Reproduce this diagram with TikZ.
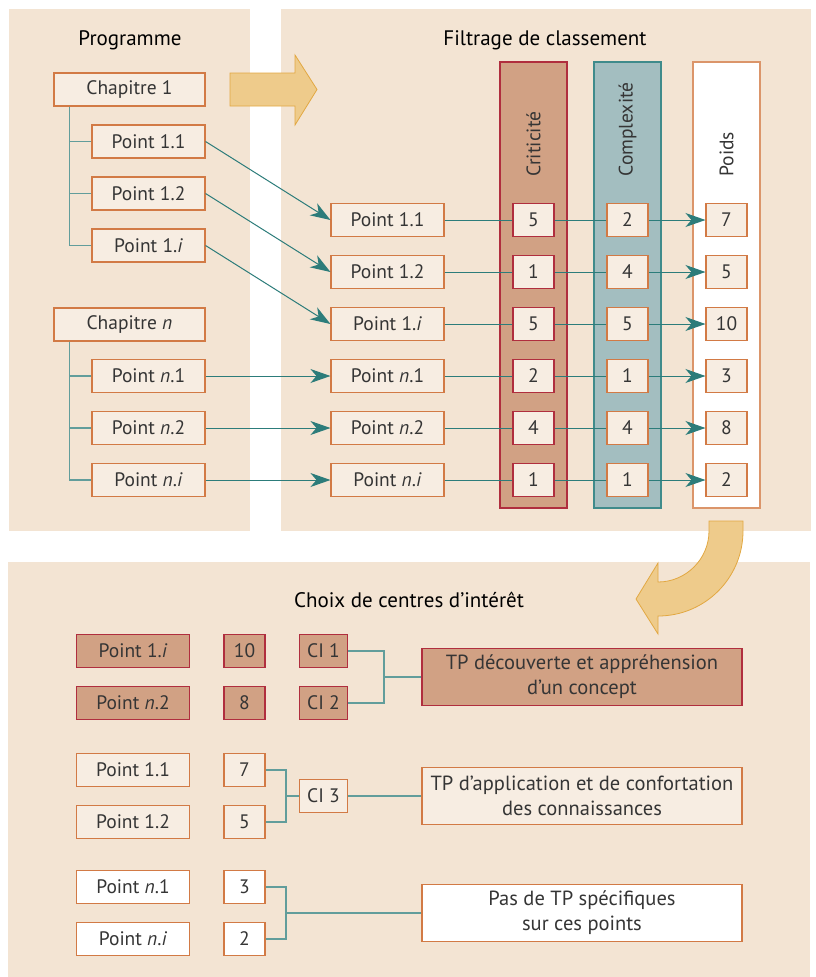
\documentclass[tikz,border=0pt]{standalone}
\usepackage{fontspec}
\setmainfont{PT Sans}
\usetikzlibrary{arrows.meta,positioning}
\definecolor{fond}{HTML}{F3E4D3}
\definecolor{clair}{HTML}{F7EDE2}
\definecolor{orangeb}{HTML}{D27A45}
\definecolor{critfond}{HTML}{D1A184}
\definecolor{critbord}{HTML}{B02E3E}
\definecolor{compfond}{HTML}{A3BEC0}
\definecolor{compbord}{HTML}{3F8B8B}
\definecolor{sarcelle}{HTML}{2C7C7A}
\definecolor{jaune}{HTML}{EECB8B}
\definecolor{jaunebord}{HTML}{E2A842}
\definecolor{texte}{HTML}{353535}

\begin{document}
\begin{tikzpicture}[x=1pt, y=-1pt,
      titre/.style={font=\fontsize{21}{24}\selectfont, text=black},
      boite/.style={draw=orangeb, line width=1.1pt, fill=clair, minimum height=33pt, inner sep=0pt,
        font=\fontsize{19.5}{22}\selectfont, text=texte},
      pt/.style={boite, minimum width=113pt},
      val/.style={boite, minimum width=41pt},
      ci/.style={boite, minimum width=48pt},
      tp/.style={boite, minimum width=320pt, minimum height=57pt, align=center,
        font=\fontsize{20.5}{25}\selectfont},
      rouge/.style={fill=critfond, draw=critbord},
      blanc/.style={fill=white},
      colonne/.style={line width=1.1pt, minimum width=67pt, minimum height=446pt, inner sep=0pt},
      etiq/.style={rotate=90, anchor=west, font=\fontsize{19.5}{22}\selectfont, text=texte},
      arbre/.style={draw=sarcelle!75, line width=1.2pt},
      lien/.style={draw=sarcelle, line width=1pt},
      fleche/.style={lien, -{Stealth[length=20pt, width=14pt, inset=6pt]}},
      grosse/.style={fill=jaune, draw=jaunebord, line width=0.8pt}]
    \useasboundingbox (0,0) rectangle (815,977);
    \fill[fond] (9,9) rectangle (250,531);
    \fill[fond] (281,9) rectangle (811,531);
    \fill[fond] (8,562) rectangle (810,977);

    \node[titre] (tprog) at (130,40) {Programme};
    \node[titre] (tfilt) at (545,40) {Filtrage de classement};
    \node[titre] (tchoix) at (409,600) {Choix de centres d’intérêt};

    \draw[grosse] (230,73) -- (295,73) -- (295,55) -- (317,89.5) -- (295,125) -- (295,106) -- (230,106) -- cycle;

    \node[boite, minimum width=151pt] (ch1) at (129.5,89.5) {Chapitre 1};
    \node[pt] (p11) at (148.5,141.5) {Point 1.1};
    \node[pt] (p12) at (148.5,193.5) {Point 1.2};
    \node[pt] (p1i) at (148.5,245.5) {Point 1.\textit{i}};
    \node[boite, minimum width=151pt] (chn) at (129.5,324.5) {Chapitre \textit{n}};
    \node[pt] (pn1) at (148.5,376) {Point \textit{n}.1};
    \node[pt] (pn2) at (148.5,428) {Point \textit{n}.2};
    \node[pt] (pni) at (148.5,480) {Point \textit{n}.\textit{i}};
    \draw[arbre] ([xshift=16pt]ch1.south west) |- (p11.west);
    \draw[arbre] ([xshift=16pt]ch1.south west) |- (p12.west);
    \draw[arbre] ([xshift=16pt]ch1.south west) |- (p1i.west);
    \draw[arbre] ([xshift=16pt]chn.south west) |- (pn1.west);
    \draw[arbre] ([xshift=16pt]chn.south west) |- (pn2.west);
    \draw[arbre] ([xshift=16pt]chn.south west) |- (pni.west);

    \node[colonne, fill=critfond, draw=critbord] (colk) at (533.5,285) {};
    \node[colonne, fill=compfond, draw=compbord] (colc) at (627.5,285) {};
    \node[colonne, fill=white, draw=orangeb!80] (colw) at (726.5,285) {};
    \node[etiq] (lk) at (533.5,180) {Criticité};
    \node[etiq] (lc) at (627.5,180) {Complexité};
    \node[etiq] (lw) at (726.5,180) {Poids};

    \node[pt] (m11) at (387.5,220) {Point 1.1};
    \node[pt] (m12) at (387.5,272) {Point 1.2};
    \node[pt] (m1i) at (387.5,324) {Point 1.\textit{i}};
    \node[pt] (mn1) at (387.5,376) {Point \textit{n}.1};
    \node[pt] (mn2) at (387.5,428) {Point \textit{n}.2};
    \node[pt] (mni) at (387.5,480) {Point \textit{n}.\textit{i}};

    \node[val, draw=critbord] (k1) at (533.5,220) {5};
    \node[val, draw=critbord] (k2) at (533.5,272) {1};
    \node[val, draw=critbord] (k3) at (533.5,324) {5};
    \node[val, draw=critbord] (k4) at (533.5,376) {2};
    \node[val, draw=critbord] (k5) at (533.5,428) {4};
    \node[val, draw=critbord] (k6) at (533.5,480) {1};
    \node[val] (c1) at (627.5,220) {2};
    \node[val] (c2) at (627.5,272) {4};
    \node[val] (c3) at (627.5,324) {5};
    \node[val] (c4) at (627.5,376) {1};
    \node[val] (c5) at (627.5,428) {4};
    \node[val] (c6) at (627.5,480) {1};
    \node[val] (w1) at (726.5,220) {7};
    \node[val] (w2) at (726.5,272) {5};
    \node[val] (w3) at (726.5,324) {10};
    \node[val] (w4) at (726.5,376) {3};
    \node[val] (w5) at (726.5,428) {8};
    \node[val] (w6) at (726.5,480) {2};

    \draw[fleche] (p11.east) -- (m11.west);
    \draw[fleche] (p12.east) -- (m12.west);
    \draw[fleche] (p1i.east) -- (m1i.west);
    \draw[fleche] (pn1) -- (mn1);
    \draw[fleche] (pn2) -- (mn2);
    \draw[fleche] (pni) -- (mni);

    \draw[lien] (m11) -- (k1);  \draw[lien] (k1) -- (c1);  \draw[fleche] (c1) -- (w1);
    \draw[lien] (m12) -- (k2);  \draw[lien] (k2) -- (c2);  \draw[fleche] (c2) -- (w2);
    \draw[lien] (m1i) -- (k3);  \draw[lien] (k3) -- (c3);  \draw[fleche] (c3) -- (w3);
    \draw[lien] (mn1) -- (k4);  \draw[lien] (k4) -- (c4);  \draw[fleche] (c4) -- (w4);
    \draw[lien] (mn2) -- (k5);  \draw[lien] (k5) -- (c5);  \draw[fleche] (c5) -- (w5);
    \draw[lien] (mni) -- (k6);  \draw[lien] (k6) -- (c6);  \draw[fleche] (c6) -- (w6);

    \draw[grosse] (709,521) -- (743,521) -- (743,531) .. controls (743,578) and (705,616) .. (658,616)
      -- (658,634) -- (636,599) -- (658,563) -- (658,582) .. controls (686,582) and (709,559) .. (709,531) -- cycle;

    \node[pt, rouge] (b1) at (133,651) {Point 1.\textit{i}};
    \node[pt, rouge] (b2) at (133,703) {Point \textit{n}.2};
    \node[pt] (b3) at (133,770) {Point 1.1};
    \node[pt] (b4) at (133,822) {Point 1.2};
    \node[pt, blanc] (b5) at (133,887) {Point \textit{n}.1};
    \node[pt, blanc] (b6) at (133,939) {Point \textit{n}.\textit{i}};
    \node[val, rouge] (v1) at (244.5,651) {10};
    \node[val, rouge] (v2) at (244.5,703) {8};
    \node[val] (v3) at (244.5,770) {7};
    \node[val] (v4) at (244.5,822) {5};
    \node[val, blanc] (v5) at (244.5,887) {3};
    \node[val, blanc] (v6) at (244.5,939) {2};
    \node[ci, rouge] (ci1) at (323.5,651) {CI 1};
    \node[ci, rouge] (ci2) at (323.5,703) {CI 2};
    \node[ci] (ci3) at (323.5,796) {CI 3};
    \node[tp, rouge] (tp1) at (582,677) {TP découverte et appréhension\\d’un concept};
    \node[tp] (tp2) at (582,796) {TP d’application et de confortation\\des connaissances};
    \node[tp, blanc] (tp3) at (582,913) {Pas de TP spécifiques\\sur ces points};

    \coordinate (j1) at (384,677);
    \coordinate (j2) at (286,796);
    \coordinate (j3) at (286,913);
    \draw[arbre] (ci1) -| (j1);
    \draw[arbre] (ci2) -| (j1);
    \draw[arbre] (j1) -- (tp1);
    \draw[arbre] (v3) -| (j2);
    \draw[arbre] (v4) -| (j2);
    \draw[arbre] (j2) -- (ci3);
    \draw[arbre] (ci3) -- (tp2);
    \draw[arbre] (v5) -| (j3);
    \draw[arbre] (v6) -| (j3);
    \draw[arbre] (j3) -- (tp3);
  \end{tikzpicture}
\end{document}
